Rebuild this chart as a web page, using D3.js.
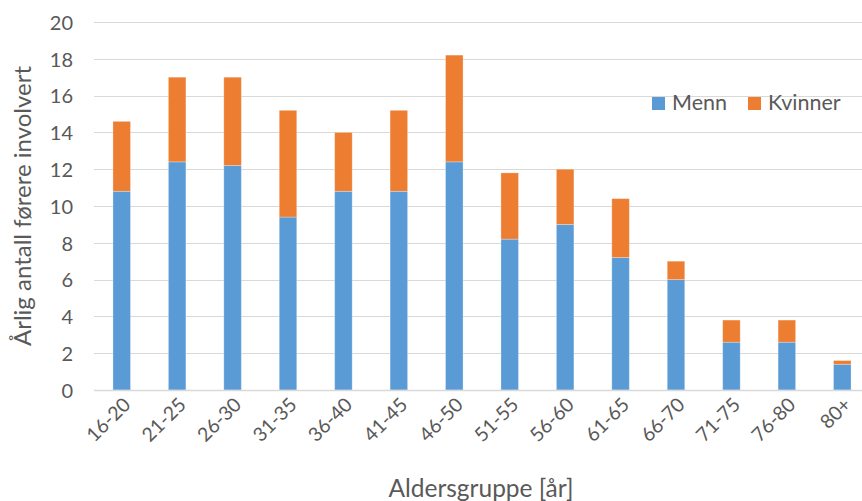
<!DOCTYPE html>
<html><head><meta charset="utf-8">
<script src="https://cdn.jsdelivr.net/npm/d3@7"></script>
<style>body{margin:0;background:#fff;overflow:hidden}svg{display:block}text{font-family:Lato,"Open Sans",sans-serif;fill:#595959}</style>
</head><body>
<script>
const categories = ["16-20","21-25","26-30","31-35","36-40","41-45","46-50","51-55","56-60","61-65","66-70","71-75","76-80","80+"];
const menn =    [10.8,12.4,12.2,9.4,10.8,10.8,12.4,8.2,9.0,7.2,6.0,2.6,2.6,1.4];
const kvinner = [3.8,4.6,4.8,5.8,3.2,4.4,5.8,3.6,3.0,3.2,1.0,1.2,1.2,0.2];
const seriesNames = ["Menn","Kvinner"];
const colors = ["#5B9BD5","#ED7D31"];
const yTicks = [0,2,4,6,8,10,12,14,16,18,20];

const W=862,H=501;
const plotL=94, plotR=870, plotT=22, plotB=390;
const svg=d3.select("body").append("svg").attr("width",W).attr("height",H);
const x=d3.scaleBand().domain(categories).range([plotL,plotR]).paddingInner(0.684).paddingOuter(0.342);
const y=d3.scaleLinear().domain([0,20]).range([plotB,plotT]);

// grid
svg.append("g").selectAll("line").data(yTicks.filter(d=>d>0)).join("line")
  .attr("x1",plotL).attr("x2",plotR)
  .attr("y1",d=>Math.round(y(d))+0.5).attr("y2",d=>Math.round(y(d))+0.5)
  .attr("stroke","#d9d9d9").attr("stroke-width",1);

// y labels
const yAxis=d3.axisLeft(y).tickValues(yTicks).tickSize(0).tickPadding(0);
const ga=svg.append("g").attr("transform",`translate(${plotL-21},0)`).call(yAxis);
ga.select(".domain").remove();
ga.selectAll("text").attr("font-size",20).style("fill","#595959").style("font-family","Lato").attr("dy","0.36em");

const data=categories.map((c,i)=>({cat:c,Menn:menn[i],Kvinner:kvinner[i]}));
const stack=d3.stack().keys(seriesNames)(data);
svg.append("g").selectAll("g").data(stack).join("g").attr("fill",(d,i)=>colors[i])
  .selectAll("rect").data(d=>d).join("rect")
  .attr("x",d=>x(d.data.cat)).attr("width",x.bandwidth())
  .attr("y",d=>y(d[1])).attr("height",d=>y(d[0])-y(d[1]))
  .attr("stroke","#ffffff").attr("stroke-opacity",0.35).attr("stroke-width",0.8);

// baseline
svg.append("line").attr("x1",plotL).attr("x2",plotR)
  .attr("y1",Math.round(y(0))+0.5).attr("y2",Math.round(y(0))+0.5)
  .attr("stroke","#d9d9d9").attr("stroke-width",1.5);

// x labels
const xAxis=d3.axisBottom(x).tickSize(0).tickPadding(0);
const gx=svg.append("g").attr("transform",`translate(0,${y(0)})`).call(xAxis);
gx.select(".domain").remove();
gx.selectAll("text").attr("font-size",19.5).style("fill","#595959").style("font-family","Lato")
  .attr("text-anchor","end").attr("dy",0).attr("y",0)
  .attr("transform","translate(10,16) rotate(-45)");

// axis titles
svg.append("text").attr("x",481).attr("y",497).attr("text-anchor","middle").attr("font-size",24.5).text("Aldersgruppe [år]");
svg.append("text").attr("transform","translate(31,206) rotate(-90)").attr("text-anchor","middle").attr("font-size",24).text("Årlig antall førere involvert");

// legend
const leg=svg.append("g");
const lx=[652,748];
seriesNames.forEach((s,i)=>{
  leg.append("rect").attr("x",lx[i]).attr("y",97).attr("width",13).attr("height",13).attr("fill",colors[i]);
  leg.append("text").attr("x",lx[i]+20).attr("y",110).attr("font-size",21.5).text(s);
});
</script>
</body></html>
